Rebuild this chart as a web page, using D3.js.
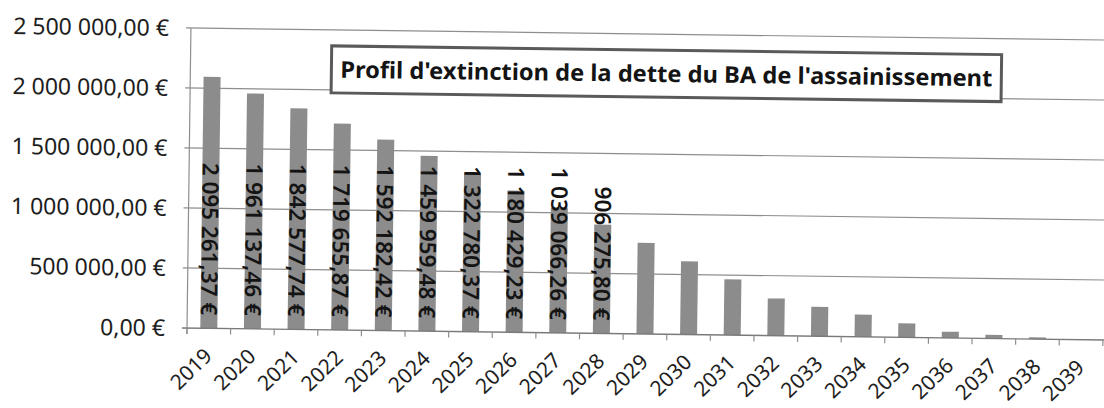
<!DOCTYPE html>
<html>
<head>
<meta charset="utf-8">
<script src="https://cdn.jsdelivr.net/npm/d3@7/dist/d3.min.js"></script>
<style>
  html, body { margin: 0; padding: 0; background: #ffffff; }
  svg { display: block; font-family: "Noto Sans", "Open Sans", sans-serif; }
</style>
</head>
<body>
<svg id="chart" width="1104" height="408"></svg>
<script>
// ---- data ----
const years = ["2019","2020","2021","2022","2023","2024","2025","2026","2027","2028",
               "2029","2030","2031","2032","2033","2034","2035","2036","2037","2038","2039"];
const debt = [2095261.37, 1961137.46, 1842577.74, 1719655.87, 1592182.42, 1459959.48,
              1322780.37, 1180429.23, 1039066.26, 906275.80,
              760000, 610000, 465000, 310000, 245000, 185000, 117000, 52000, 30000, 15000, 0];
const labelledCount = 10; // data labels shown for 2019..2028
const yTicks = [0, 500000, 1000000, 1500000, 2000000, 2500000];
const chartTitle = "Profil d'extinction de la dette du BA de l'assainissement";

// ---- formatting (French) ----
const fr = d3.formatLocale({decimal: ",", thousands: " ", grouping: [3], currency: ["", " €"]});
const fmt = v => fr.format(",.2f")(v) + " €";

// ---- layout ----
const pLeft = 187, pRight = 1103, pTop = 28, pBottom = 328;
const svg = d3.select("#chart");
const g = svg.append("g").attr("transform", `rotate(0.75, ${pLeft}, ${pBottom})`);

const x = d3.scaleBand().domain(years).range([pLeft, pRight]).paddingInner(0.61).paddingOuter(0.305);
const y = d3.scaleLinear().domain([0, 2500000]).range([pBottom, pTop]);

// gridlines
g.append("g").selectAll("line").data(yTicks.filter(d => d > 0)).join("line")
  .attr("x1", pLeft - 5).attr("x2", pRight + 10)
  .attr("y1", d => y(d)).attr("y2", d => y(d))
  .attr("stroke", "#8e8e8e").attr("stroke-width", 1.2);

// y axis line
g.append("line").attr("x1", pLeft).attr("x2", pLeft).attr("y1", pTop).attr("y2", pBottom + 6)
  .attr("stroke", "#8e8e8e").attr("stroke-width", 1.2);

// y tick labels
g.append("g").selectAll("text").data(yTicks).join("text")
  .attr("x", pLeft - 22).attr("y", d => y(d)).attr("dy", "0.36em")
  .attr("text-anchor", "end").attr("fill", "#1e1e1e")
  .style("font-size", "23px")
  .text(d => fmt(d));

// bars
g.append("g").selectAll("rect").data(years).join("rect")
  .attr("x", d => x(d)).attr("width", x.bandwidth())
  .attr("y", (d, i) => y(debt[i])).attr("height", (d, i) => y(0) - y(debt[i]))
  .attr("fill", "#8c8c8c");

// x axis baseline
g.append("line").attr("x1", pLeft - 5).attr("x2", pRight + 10).attr("y1", pBottom).attr("y2", pBottom)
  .attr("stroke", "#7a7a7a").attr("stroke-width", 1.4);

// x ticks at category boundaries
const step = x.step();
const bounds = d3.range(years.length + 1).map(i => pLeft + i * step);
g.append("g").selectAll("line").data(bounds).join("line")
  .attr("x1", d => d).attr("x2", d => d).attr("y1", pBottom).attr("y2", pBottom + 6)
  .attr("stroke", "#8e8e8e").attr("stroke-width", 1.2);

// x labels (rotated -45)
g.append("g").selectAll("text").data(years).join("text")
  .attr("transform", d => `translate(${x(d) + x.bandwidth() / 2 + 5}, ${pBottom + 29}) rotate(-45)`)
  .attr("text-anchor", "end").attr("fill", "#1e1e1e")
  .style("font-size", "21px")
  .text(d => d);

// data labels (vertical, inside base)
g.append("g").selectAll("text").data(years.slice(0, labelledCount)).join("text")
  .attr("transform", d => `translate(${x(d) + x.bandwidth() / 2}, ${pBottom - 13}) rotate(90)`)
  .attr("text-anchor", "end").attr("dy", "0.36em").attr("fill", "#141414")
  .style("font-size", "22.5px").style("font-weight", "600")
  .text((d, i) => fmt(debt[i]));

// title box
const tb = g.append("g");
tb.append("rect").attr("x", 328).attr("y", 44).attr("width", 670).attr("height", 47)
  .attr("fill", "#ffffff").attr("stroke", "#5a5a5a").attr("stroke-width", 3);
tb.append("text").attr("x", 663).attr("y", 67.5).attr("dy", "0.36em")
  .attr("text-anchor", "middle").attr("fill", "#141414")
  .style("font-size", "23px").style("font-weight", "700")
  .attr("textLength", 652).attr("lengthAdjust", "spacingAndGlyphs")
  .text(chartTitle);
</script>
</body>
</html>
